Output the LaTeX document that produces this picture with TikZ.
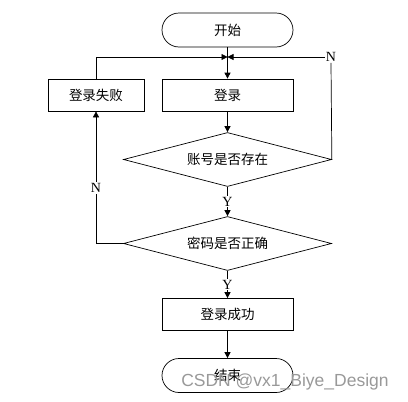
\documentclass[tikz,border=0pt]{standalone}
\usepackage{fontspec}
\setmainfont{Liberation Serif}
\newfontfamily\cjk{Noto Sans CJK SC}
\newfontfamily\wmfont{Liberation Sans}
\usetikzlibrary{shapes.geometric,shapes.misc,arrows.meta}
\begin{document}
\begin{tikzpicture}[x=1pt,y=-1pt,
  every node/.style={font=\cjk\fontsize{13.5}{15}\selectfont},
  term/.style={draw,rounded rectangle,minimum width=131pt,minimum height=34pt,line width=0.7pt,inner sep=0pt},
  proc/.style={draw,rectangle,minimum height=32pt,line width=0.7pt,inner sep=0pt},
  dec/.style={draw,diamond,aspect=3.8,minimum width=208pt,minimum height=54pt,line width=0.7pt,inner sep=0pt},
  lab/.style={font=\fontsize{14}{16}\selectfont,fill=white,inner sep=1pt},
  line/.style={line width=0.7pt},
  arr/.style={line width=0.7pt,-{Triangle[length=6pt,width=6pt]}}]
\useasboundingbox (0,0) rectangle (408,402);
\node[term] (start) at (227.5,30) {开始};
\node[proc,minimum width=131pt] (login) at (227.5,95) {登录};
\node[proc,minimum width=96pt] (fail) at (96,95) {登录失败};
\node[dec] (d1) at (227.5,159.5) {账号是否存在};
\node[dec] (d2) at (227.5,243.5) {密码是否正确};
\node[proc,minimum width=131pt] (ok) at (227.5,314.5) {登录成功};
\node[term] (end) at (227.5,375.5) {结束};
\coordinate (j) at (227.5,57);
\node[lab] (nr) at (331,57) {N};
\draw[arr] (start.south) -- (login.north);
\draw[arr] (fail.north) |- (j);
\draw[line] (d1.east) -- (nr.south);
\draw[arr] (nr.west) -- (j);
\draw[arr] (login.south) -- (d1.north);
\draw[arr] (d1.south) -- node[lab] {Y} (d2.north);
\draw[arr] (d2.west) -| node[lab,pos=0.71] {N} (fail.south);
\draw[arr] (d2.south) -- node[lab] {Y} (ok.north);
\draw[arr] (ok.south) -- (end.north);
\node[font=\wmfont\fontsize{17.5}{19}\selectfont,text=gray!80,inner sep=0pt] (wm) at (285,382) {CSDN @vx1\_Biye\_Design};
\end{tikzpicture}
\end{document}
